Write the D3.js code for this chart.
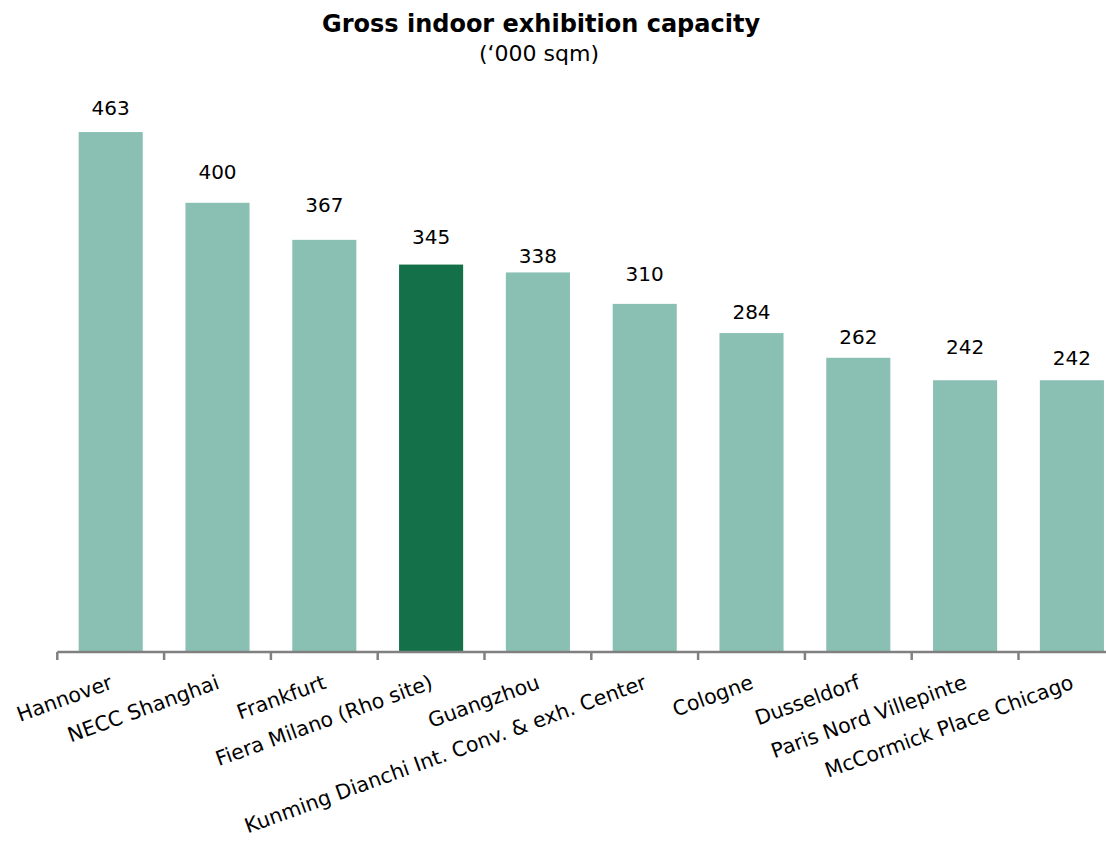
<!DOCTYPE html>
<html>
<head>
<meta charset="utf-8">
<script src="https://cdn.jsdelivr.net/npm/d3@7"></script>
<style>
  body { margin: 0; background: #fff; }
  text { font-family: "DejaVu Sans", Verdana, sans-serif; fill: #000; }
</style>
</head>
<body>
<div class="container"></div>
<script>
var venues = ["Hannover", "NECC Shanghai", "Frankfurt", "Fiera Milano (Rho site)", "Guangzhou",
  "Kunming Dianchi Int. Conv. & exh. Center", "Cologne", "Dusseldorf", "Paris Nord Villepinte",
  "McCormick Place Chicago"];
var capacity = [463, 400, 367, 345, 338, 310, 284, 262, 242, 242];
var highlight = "Fiera Milano (Rho site)";

// how far each value label sits above its bar (layout only)
var labelLift = [17, 24, 28, 21, 9, 23, 14, 14, 26, 15];

var w = 1106;
var h = 842;

var svg = d3.select(".container")
    .append("svg")
    .attr("width", w)
    .attr("height", h);

var x = d3.scaleBand()
    .domain(venues)
    .range([57.3, 57.3 + 10 * 106.8])
    .paddingInner(0.4)
    .paddingOuter(0.2);

var y = d3.scaleLinear()
    .domain([0, 500])
    .range([652, 90.5]);

// title
svg.append("text")
    .attr("x", 541)
    .attr("y", 32)
    .attr("text-anchor", "middle")
    .attr("font-size", "24px")
    .attr("font-weight", "bold")
    .text("Gross indoor exhibition capacity");

svg.append("text")
    .attr("x", 539)
    .attr("y", 61)
    .attr("text-anchor", "middle")
    .attr("font-size", "22px")
    .text("(\u2018000 sqm)");

svg.selectAll("rect.bar")
    .data(venues)
    .enter()
    .append("rect")
    .attr("class", "bar")
    .attr("x", function(d) { return x(d); })
    .attr("y", function(d, i) { return y(capacity[i]); })
    .attr("width", x.bandwidth())
    .attr("height", function(d, i) { return y(0) - y(capacity[i]); })
    .attr("fill", function(d) { return d === highlight ? "#137049" : "#8ac0b4"; });

svg.selectAll("text.val")
    .data(venues)
    .enter()
    .append("text")
    .attr("class", "val")
    .attr("x", function(d) { return x(d) + x.bandwidth() / 2; })
    .attr("y", function(d, i) { return y(capacity[i]) - labelLift[i]; })
    .attr("text-anchor", "middle")
    .attr("font-size", "20px")
    .text(function(d, i) { return capacity[i]; });

// axis: line plus ticks between the bars
var step = x.step();
var ticks = d3.range(0, venues.length).map(function(i) { return x.range()[0] + i * step; });

svg.append("line")
    .attr("x1", x.range()[0])
    .attr("x2", w)
    .attr("y1", y(0))
    .attr("y2", y(0))
    .attr("stroke", "#808080")
    .attr("stroke-width", 2.5);

svg.selectAll("line.tick")
    .data(ticks)
    .enter()
    .append("line")
    .attr("class", "tick")
    .attr("x1", function(d) { return d; })
    .attr("x2", function(d) { return d; })
    .attr("y1", y(0))
    .attr("y2", y(0) + 8)
    .attr("stroke", "#808080")
    .attr("stroke-width", 2.5);

svg.selectAll("text.cat")
    .data(venues)
    .enter()
    .append("text")
    .attr("class", "cat")
    .attr("text-anchor", "end")
    .attr("font-size", "20.5px")
    .attr("transform", function(d) {
        return "translate(" + (x(d) + x.bandwidth() / 2 + 3) + ",688)rotate(-20)";
    })
    .text(function(d) { return d; });
</script>
</body>
</html>
